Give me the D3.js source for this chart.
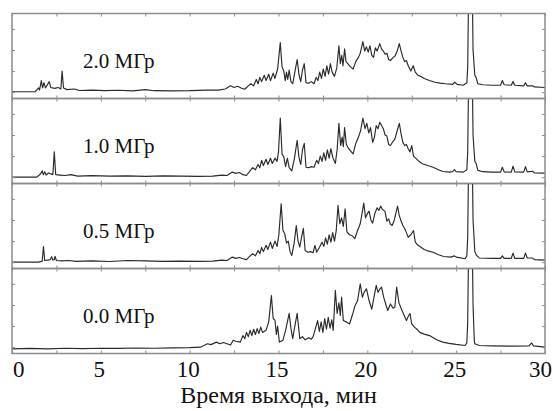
<!DOCTYPE html>
<html>
<head>
<meta charset="utf-8">
<script src="https://cdn.jsdelivr.net/npm/d3@7"></script>
<style>
  body { margin: 0; background: #fff; }
  svg { display: block; }
  .frame { fill: none; stroke: #8c8c8c; stroke-width: 1.5; }
  .trace { fill: none; stroke: #2a2a2a; stroke-width: 1.15; stroke-linejoin: round; }
  .tick line { stroke: #8c8c8c; }
  text { font-family: 'Liberation Serif', 'Times New Roman', serif; fill: #111; }
</style>
</head>
<body>
<div id="chart"></div>
<script>
// panel labels, top to bottom
const panelLabels = ['2.0 МГр', '1.0 МГр', '0.5 МГр', '0.0 МГр']

// [time, min ; signal]
const dose20 = [[0,0.02],[1.3,0.02],[1.5,0.2],[1.55,0.1],[1.65,0.55],[1.72,0.2],[1.8,0.45],[1.88,0.2],[2.1,0.5],[2.18,0.22],[2.4,0.18],[2.6,0.22],[2.75,0.15],[2.82,1.0],[2.9,0.2],[3.1,0.12],[3.5,0.15],[3.8,0.08],[4.5,0.1],[5.2,0.07],[6.0,0.09],[6.8,0.06],[7.5,0.12],[8.0,0.07],[9.0,0.06],[10.0,0.07],[11.0,0.1],[11.6,0.1],[12.0,0.15],[12.3,0.3],[12.5,0.22],[12.7,0.28],[12.9,0.2],[13.1,0.14],[13.3,0.3],[13.45,0.4],[13.6,0.3],[13.75,0.6],[13.85,0.4],[13.95,0.7],[14.05,0.5],[14.2,0.8],[14.3,0.55],[14.45,0.85],[14.55,0.55],[14.7,0.9],[14.8,0.65],[14.95,1.1],[15.1,2.35],[15.2,1.2],[15.3,1.0],[15.38,0.55],[15.45,0.95],[15.52,0.6],[15.6,1.05],[15.7,0.5],[15.8,0.4],[15.92,0.95],[16.05,1.55],[16.15,0.85],[16.25,0.5],[16.35,1.05],[16.45,1.35],[16.55,0.45],[16.7,0.42],[16.85,0.5],[17.0,0.4],[17.12,0.7],[17.22,0.55],[17.32,0.95],[17.42,0.65],[17.52,1.1],[17.62,0.75],[17.72,1.25],[17.82,0.85],[17.92,1.35],[18.02,0.95],[18.15,0.75],[18.28,1.15],[18.4,2.2],[18.48,1.35],[18.56,1.75],[18.63,1.25],[18.72,2.05],[18.8,1.45],[18.9,1.35],[19.05,1.2],[19.2,1.1],[19.35,1.45],[19.5,1.65],[19.6,1.85],[19.75,2.4],[19.85,1.95],[19.95,2.15],[20.05,1.9],[20.15,2.2],[20.25,1.75],[20.35,1.65],[20.45,2.1],[20.55,1.95],[20.7,2.3],[20.8,2.05],[20.9,1.95],[21.0,1.8],[21.1,1.85],[21.2,1.55],[21.3,1.5],[21.45,1.65],[21.55,1.7],[21.68,1.95],[21.8,2.3],[21.9,1.95],[22.0,1.65],[22.1,1.45],[22.2,1.5],[22.3,1.25],[22.45,1.0],[22.58,1.25],[22.7,0.95],[22.85,0.8],[23.0,0.75],[23.2,0.65],[23.5,0.55],[23.8,0.47],[24.1,0.43],[24.4,0.4],[24.8,0.37],[24.92,0.47],[25.05,0.37],[25.4,0.33],[25.6,0.45],[25.65,1.2],[25.8,12],[25.95,2.0],[26.05,0.8],[26.12,0.7],[26.22,0.4],[26.5,0.35],[27.0,0.33],[27.5,0.33],[27.6,0.55],[27.7,0.35],[28.1,0.33],[28.2,0.5],[28.3,0.33],[28.8,0.3],[28.9,0.45],[29.0,0.3],[29.3,0.3],[29.4,0.25],[30,0.22]]

const dose10 = [[0,0.0],[1.4,0.0],[1.6,0.15],[1.7,0.3],[1.76,0.12],[1.85,0.25],[1.92,0.1],[2.05,0.2],[2.3,0.12],[2.38,1.2],[2.46,0.12],[2.7,0.1],[3.0,0.08],[3.3,0.12],[3.7,0.05],[4.5,0.07],[5.5,0.05],[6.5,0.06],[7.5,0.04],[8.5,0.06],[9.5,0.05],[10.5,0.04],[11.3,0.05],[11.8,0.1],[12.1,0.08],[12.4,0.24],[12.6,0.18],[12.8,0.22],[13.0,0.12],[13.2,0.08],[13.4,0.3],[13.55,0.45],[13.7,0.35],[13.85,0.6],[13.95,0.45],[14.05,0.8],[14.15,0.55],[14.3,0.85],[14.4,0.6],[14.55,0.9],[14.65,0.65],[14.8,0.9],[14.92,0.75],[15.0,1.2],[15.1,2.8],[15.2,1.1],[15.3,0.95],[15.4,0.5],[15.5,0.9],[15.6,0.45],[15.75,0.3],[15.9,0.9],[16.05,1.75],[16.15,0.95],[16.25,0.6],[16.35,1.3],[16.45,1.6],[16.55,0.47],[16.7,0.45],[16.85,0.5],[17.0,0.47],[17.15,0.8],[17.25,0.65],[17.35,1.0],[17.45,0.75],[17.55,1.15],[17.65,0.8],[17.75,1.3],[17.85,0.9],[17.95,1.35],[18.05,0.95],[18.2,0.65],[18.3,1.3],[18.4,2.55],[18.5,1.5],[18.58,1.9],[18.65,1.45],[18.72,2.35],[18.82,1.55],[18.95,1.35],[19.1,1.2],[19.2,1.1],[19.35,1.6],[19.5,1.9],[19.62,2.2],[19.75,2.8],[19.87,2.3],[19.97,2.55],[20.08,2.1],[20.18,2.35],[20.3,1.65],[20.4,1.9],[20.5,2.45],[20.6,2.3],[20.7,2.6],[20.8,2.45],[20.9,2.3],[21.0,2.0],[21.1,1.95],[21.2,1.55],[21.3,1.5],[21.45,1.7],[21.55,1.8],[21.68,2.2],[21.8,2.55],[21.9,2.05],[22.0,1.65],[22.1,1.5],[22.2,1.55],[22.3,1.35],[22.4,1.2],[22.5,1.5],[22.6,1.0],[22.75,0.88],[22.9,0.75],[23.1,0.64],[23.4,0.55],[23.7,0.47],[24.0,0.35],[24.25,0.27],[24.6,0.24],[24.8,0.26],[24.9,0.36],[25.0,0.26],[25.4,0.24],[25.6,0.35],[25.65,1.2],[25.8,12],[25.95,2.0],[26.05,0.75],[26.12,0.66],[26.22,0.32],[26.5,0.26],[27.0,0.24],[27.5,0.24],[27.6,0.47],[27.7,0.25],[28.1,0.24],[28.2,0.52],[28.3,0.25],[28.8,0.24],[28.9,0.5],[29.0,0.25],[29.3,0.28],[29.4,0.2],[30,0.19]]

const dose05 = [[0,0.0],[1.5,0.0],[1.7,0.05],[1.77,0.74],[1.84,0.08],[2.0,0.1],[2.15,0.12],[2.23,0.26],[2.3,0.1],[2.38,0.12],[2.42,0.28],[2.5,0.08],[2.8,0.06],[3.2,0.08],[3.6,0.04],[4.5,0.06],[5.5,0.03],[6.5,0.08],[7.5,0.06],[8.5,0.04],[9.5,0.05],[10.5,0.04],[11.3,0.05],[11.8,0.1],[12.1,0.08],[12.4,0.24],[12.6,0.18],[12.8,0.22],[13.0,0.16],[13.2,0.12],[13.4,0.3],[13.55,0.4],[13.7,0.3],[13.85,0.55],[13.95,0.4],[14.05,0.7],[14.15,0.5],[14.3,0.8],[14.4,0.6],[14.55,0.95],[14.65,0.65],[14.8,1.0],[14.92,0.75],[15.02,1.3],[15.15,2.77],[15.25,1.5],[15.35,1.35],[15.45,0.9],[15.55,1.0],[15.65,0.5],[15.75,0.32],[15.88,0.9],[16.0,1.74],[16.1,1.0],[16.2,0.72],[16.3,1.2],[16.4,1.6],[16.5,0.55],[16.65,0.47],[16.8,0.5],[16.95,0.45],[17.05,0.8],[17.15,0.47],[17.3,0.7],[17.45,0.95],[17.55,0.75],[17.65,1.15],[17.75,0.85],[17.85,1.3],[17.95,0.95],[18.05,1.4],[18.15,1.0],[18.25,1.5],[18.35,2.69],[18.45,1.82],[18.55,2.1],[18.65,1.7],[18.75,2.53],[18.85,1.44],[19.0,1.3],[19.15,1.25],[19.3,1.12],[19.45,1.5],[19.6,1.82],[19.7,2.3],[19.8,2.8],[19.9,2.1],[20.0,2.3],[20.1,2.42],[20.2,2.0],[20.3,1.85],[20.42,2.3],[20.55,2.58],[20.65,2.45],[20.75,2.66],[20.85,2.5],[20.99,2.42],[21.1,1.95],[21.2,2.05],[21.3,1.8],[21.4,1.74],[21.52,2.0],[21.6,2.3],[21.7,2.66],[21.8,2.2],[21.9,1.95],[22.0,1.74],[22.1,1.6],[22.2,1.4],[22.3,1.18],[22.45,1.3],[22.6,1.5],[22.7,0.95],[22.85,0.8],[23.0,0.72],[23.2,0.6],[23.35,0.55],[23.7,0.47],[24.0,0.35],[24.3,0.27],[24.7,0.24],[24.9,0.3],[25.0,0.24],[25.5,0.16],[25.6,0.3],[25.65,1.2],[25.8,12],[25.95,2.0],[26.05,0.5],[26.15,0.32],[26.3,0.2],[27.0,0.18],[27.5,0.18],[27.6,0.3],[27.7,0.18],[28.1,0.18],[28.2,0.43],[28.3,0.18],[28.8,0.18],[28.9,0.43],[29.0,0.2],[29.3,0.2],[29.4,0.12],[30,0.1]]

const dose00 = [[0,-0.08],[1,-0.06],[2,-0.08],[3,-0.05],[4,-0.07],[5,-0.05],[6,-0.06],[7,-0.04],[8,-0.05],[9,-0.03],[10,-0.02],[10.6,0.0],[11.0,0.16],[11.2,0.12],[11.5,0.24],[11.7,0.16],[11.9,0.22],[12.1,0.16],[12.3,0.1],[12.45,0.33],[12.6,0.28],[12.85,0.24],[13.0,0.55],[13.1,0.4],[13.2,0.7],[13.3,0.5],[13.4,0.8],[13.5,0.55],[13.6,0.85],[13.7,0.6],[13.8,0.88],[13.9,0.65],[14.0,0.95],[14.1,0.7],[14.3,0.8],[14.45,1.2],[14.6,2.45],[14.7,1.36],[14.8,1.28],[14.88,0.6],[14.95,1.0],[15.05,0.24],[15.25,0.33],[15.4,0.8],[15.5,1.2],[15.6,1.6],[15.7,0.9],[15.8,0.4],[15.92,1.0],[16.05,1.6],[16.2,0.4],[16.35,0.5],[16.5,0.35],[16.7,0.45],[16.85,0.38],[16.95,0.5],[17.05,0.8],[17.2,1.26],[17.3,0.75],[17.4,1.2],[17.5,0.7],[17.6,1.35],[17.7,0.85],[17.8,1.42],[17.9,0.9],[18.0,1.3],[18.08,0.8],[18.2,2.69],[18.3,1.6],[18.4,2.1],[18.48,1.5],[18.55,2.37],[18.65,1.26],[18.8,1.2],[19.0,1.1],[19.15,1.5],[19.3,1.95],[19.45,2.2],[19.6,3.0],[19.72,2.37],[19.82,2.6],[19.95,2.77],[20.1,2.2],[20.25,1.8],[20.38,2.4],[20.5,2.93],[20.6,2.6],[20.7,2.75],[20.8,2.85],[20.92,2.37],[21.05,2.0],[21.15,1.74],[21.3,2.05],[21.45,1.85],[21.55,1.9],[21.65,2.85],[21.78,2.1],[21.95,1.74],[22.1,1.45],[22.2,1.26],[22.3,1.45],[22.4,1.6],[22.5,1.1],[22.65,0.95],[22.8,0.85],[22.95,0.7],[23.2,0.62],[23.5,0.55],[23.9,0.35],[24.25,0.24],[24.6,0.18],[25.0,0.13],[25.5,0.08],[25.6,0.2],[25.65,1.2],[25.8,12],[25.95,2.0],[26.02,0.3],[26.05,0.16],[26.3,0.08],[27.0,0.06],[28.0,0.05],[29.1,0.06],[29.25,0.2],[29.35,0.06],[30,0.0]]

const traces = [dose20, dose10, dose05, dose00]

// axis ticks
const xLabelTicks = [0, 5, 10, 15, 20, 25, 30]
const xMinorTicks = d3.range(0, 30.01, 2.5)
const yTicks = [0, 1, 2, 3]
const xTitle = 'Время выхода, мин'

const width = 553
const height = 411
const margin = {top: 13.5, right: 8, bottom: 57.5, left: 12}
const panelH = (height - margin.top - margin.bottom) / traces.length

const svg = d3.select('#chart').append('svg')
  .attr('width', width)
  .attr('height', height)

const x = d3.scaleLinear().domain([0, 30]).range([margin.left, width - margin.right])

const line = d3.line()
  .x(function(d) { return x(d[0]) })

traces.forEach(function(data, i) {
  const top = margin.top + i * panelH
  const bottom = top + panelH
  const y = d3.scaleLinear().domain([-0.3, 3.73]).range([bottom, top])

  svg.append('clipPath')
    .attr('id', 'clip' + i)
    .append('rect')
    .attr('x', x(0))
    .attr('y', top)
    .attr('width', x(30) - x(0))
    .attr('height', panelH)

  svg.append('path')
    .datum(data)
    .attr('class', 'trace')
    .attr('clip-path', 'url(#clip' + i + ')')
    .attr('d', line.y(function(d) { return y(d[1]) }))

  // inward ticks on all four sides
  const axes = [
    [d3.axisBottom(x).tickValues(xMinorTicks), 'translate(0,' + bottom + ')'],
    [d3.axisTop(x).tickValues(xMinorTicks), 'translate(0,' + top + ')'],
    [d3.axisLeft(y).tickValues(yTicks), 'translate(' + x(0) + ',0)'],
    [d3.axisRight(y).tickValues(yTicks), 'translate(' + x(30) + ',0)']
  ]
  axes.forEach(function(a) {
    const g = svg.append('g')
      .attr('transform', a[1])
      .call(a[0].tickSize(-3).tickFormat(''))
    g.select('.domain').remove()
  })

  svg.append('rect')
    .attr('class', 'frame')
    .attr('x', x(0))
    .attr('y', top)
    .attr('width', x(30) - x(0))
    .attr('height', panelH)

  svg.append('text')
    .attr('x', 83)
    .attr('y', top + 54)
    .attr('font-size', 21)
    .text(panelLabels[i])
})

const plotBottom = margin.top + traces.length * panelH

// bottom tick labels
svg.selectAll('.xlabel')
  .data(xLabelTicks)
  .enter().append('text')
  .attr('class', 'xlabel')
  .attr('x', function(d) { return d === 0 ? x(d) + 1 : d === 30 ? x(d) + 7 : x(d) - 1.5 })
  .attr('y', plotBottom + 23.5)
  .attr('font-size', 23)
  .attr('text-anchor', function(d) { return d === 0 ? 'start' : d === 30 ? 'end' : 'middle' })
  .text(function(d) { return d })

svg.append('text')
  .attr('x', (x(0) + x(30)) / 2)
  .attr('y', plotBottom + 49.5)
  .attr('font-size', 24)
  .attr('text-anchor', 'middle')
  .text(xTitle)
</script>
</body>
</html>
